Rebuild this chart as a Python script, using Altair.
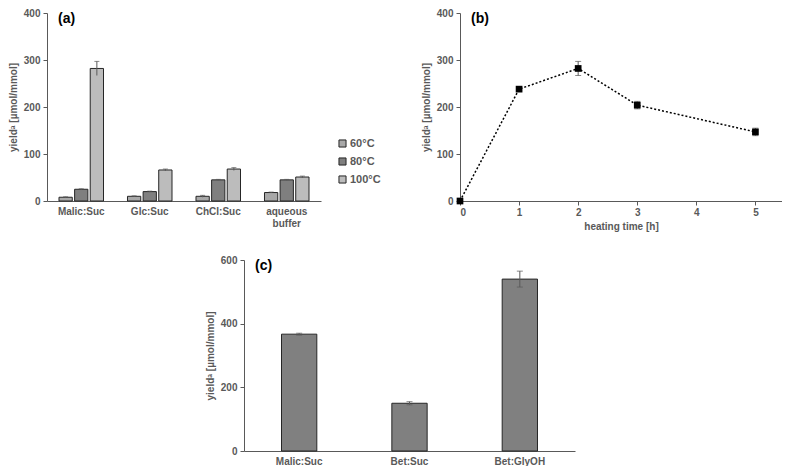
import altair as alt
import pandas as pd

# ---------------- data ----------------
cats_a = ["Malic:Suc", "Glc:Suc", "ChCl:Suc", "aqueous buffer"]
temps = ["60°C", "80°C", "100°C"]
y60 = [8, 10, 10, 18]
y80 = [25, 20, 45, 45]
y100 = [282, 66, 68, 51]
e60 = [1, 1, 2, 1]
e80 = [1, 1, 1, 1]
e100 = [15, 2, 3, 2]

times_b = [0, 1, 2, 3, 5]
yield_b = [0, 238, 282, 204, 147]
err_b = [0, 3, 15, 8, 8]

cats_c = ["Malic:Suc", "Bet:Suc", "Bet:GlyOH"]
yield_c = [367, 150, 540]
err_c = [3, 5, 25]

ytitle = "yieldᵃ [µmol/mmol]"

# ---------------- style ----------------
FONT = "Liberation Sans"
GRAY = "#595959"
DARK = "#262626"

rows = []
for i, c in enumerate(cats_a):
    for t, vals, errs in zip(temps, [y60, y80, y100], [e60, e80, e100]):
        rows.append(dict(cat=c, temp=t, y=vals[i], lo=vals[i] - errs[i], hi=vals[i] + errs[i]))
dfa = pd.DataFrame(rows)

dfb = pd.DataFrame(dict(t=times_b, y=yield_b,
                        lo=[v - e for v, e in zip(yield_b, err_b)],
                        hi=[v + e for v, e in zip(yield_b, err_b)]))

dfc = pd.DataFrame(dict(cat=cats_c, y=yield_c,
                        lo=[v - e for v, e in zip(yield_c, err_c)],
                        hi=[v + e for v, e in zip(yield_c, err_c)]))


def yaxis(values):
    return alt.Axis(values=values, title=ytitle, grid=False, tickSize=4,
                    labelFont=FONT, labelFontWeight="bold", labelFontSize=10, labelColor=GRAY,
                    titleFont=FONT, titleFontWeight="bold", titleFontSize=10, titleColor=GRAY,
                    domainColor=GRAY, tickColor=GRAY, labelPadding=3, titlePadding=5)


def label_chart(txt):
    return alt.Chart(pd.DataFrame({"t": [txt]})).mark_text(
        font=FONT, fontWeight="bold", fontSize=14, color="black", align="left", baseline="middle"
    ).encode(text="t:N", x=alt.value(11), y=alt.value(6))


# ---------------- panel (a) ----------------
xa = alt.X("cat:N", sort=cats_a, title=None,
           scale=alt.Scale(paddingInner=0.35, paddingOuter=0.175),
           axis=alt.Axis(labelAngle=0, ticks=False, domainColor=GRAY,
                         labelExpr="datum.label == 'aqueous buffer' ? ['aqueous', 'buffer'] : datum.label",
                         labelFont=FONT, labelFontWeight="bold", labelFontSize=10, labelColor=GRAY,
                         labelPadding=5))
xoff = alt.XOffset("temp:N", sort=temps, scale=alt.Scale(paddingInner=0.15))
ya = alt.Y("y:Q", scale=alt.Scale(domain=[0, 400], nice=False), axis=yaxis([0, 100, 200, 300, 400]))

bars_a = alt.Chart(dfa).mark_bar(stroke=DARK, strokeWidth=1).encode(
    x=xa, xOffset=xoff, y=ya,
    color=alt.Color("temp:N", sort=temps,
                    scale=alt.Scale(domain=temps, range=["#a8a8a8", "#7f7f7f", "#bcbcbc"]),
                    legend=alt.Legend(title=None, orient="none", legendX=290, legendY=125,
                                      symbolType="square", symbolSize=50, symbolStrokeColor=DARK,
                                      symbolStrokeWidth=1, labelFont=FONT, labelFontWeight="bold",
                                      labelFontSize=11, labelColor=GRAY, rowPadding=5, labelOffset=2))
)
err_a = alt.Chart(dfa).mark_rule(color=GRAY, strokeWidth=1).encode(
    x=xa, xOffset=xoff, y="lo:Q", y2="hi:Q")
cap_a = alt.Chart(dfa).mark_tick(color=GRAY, thickness=1, size=5).encode(
    x=xa, xOffset=xoff, y="hi:Q")
panel_a = alt.layer(bars_a, err_a, cap_a, label_chart("(a)")).properties(width=274, height=188)

# ---------------- panel (b) ----------------
xb = alt.X("t:Q", scale=alt.Scale(domain=[0, 5.45], nice=False),
           axis=alt.Axis(values=[0, 1, 2, 3, 4, 5], title="heating time [h]", grid=False, tickSize=4,
                         labelFont=FONT, labelFontWeight="bold", labelFontSize=10, labelColor=GRAY,
                         titleFont=FONT, titleFontWeight="bold", titleFontSize=10, titleColor=GRAY,
                         domainColor=GRAY, tickColor=GRAY, titlePadding=4))
yb = alt.Y("y:Q", scale=alt.Scale(domain=[0, 400], nice=False), axis=yaxis([0, 100, 200, 300, 400]))

line_b = alt.Chart(dfb).mark_line(color="black", strokeWidth=1.5, strokeDash=[2, 2]).encode(x=xb, y=yb)
err_b_c = alt.Chart(dfb).mark_rule(color=GRAY, strokeWidth=1).encode(x=xb, y="lo:Q", y2="hi:Q")
cap_b = alt.Chart(dfb).mark_tick(color=GRAY, thickness=1, size=6, orient="horizontal").encode(x=xb, y="hi:Q")
cap_b2 = alt.Chart(dfb).mark_tick(color=GRAY, thickness=1, size=6, orient="horizontal").encode(x=xb, y="lo:Q")
pts_b = alt.Chart(dfb).mark_point(shape="square", filled=True, color="black", size=45, opacity=1).encode(x=xb, y=yb)
panel_b = alt.layer(line_b, err_b_c, cap_b, cap_b2, pts_b, label_chart("(b)")).properties(width=322, height=188)

# ---------------- panel (c) ----------------
xc = alt.X("cat:N", sort=cats_c, title=None,
           scale=alt.Scale(paddingInner=0.68, paddingOuter=0.34),
           axis=alt.Axis(labelAngle=0, ticks=False, domainColor=GRAY,
                         labelFont=FONT, labelFontWeight="bold", labelFontSize=10, labelColor=GRAY,
                         labelPadding=5))
yc = alt.Y("y:Q", scale=alt.Scale(domain=[0, 600], nice=False), axis=yaxis([0, 200, 400, 600]))
bars_c = alt.Chart(dfc).mark_bar(color="#808080", stroke=DARK, strokeWidth=1).encode(x=xc, y=yc)
err_c_r = alt.Chart(dfc).mark_rule(color=GRAY, strokeWidth=1).encode(x=xc, y="lo:Q", y2="hi:Q")
cap_c = alt.Chart(dfc).mark_tick(color=GRAY, thickness=1, size=6).encode(x=xc, y="hi:Q")
cap_c2 = alt.Chart(dfc).mark_tick(color=GRAY, thickness=1, size=6).encode(x=xc, y="lo:Q")
panel_c = alt.layer(bars_c, err_c_r, cap_c, cap_c2, label_chart("(c)")).properties(width=331, height=191)

spacer = alt.Chart(pd.DataFrame({"v": [0]})).mark_point(opacity=0).encode(
    x=alt.value(0), y=alt.value(0)).properties(width=158, height=10)

top = alt.hconcat(panel_a, panel_b, spacing=100)
bottom = alt.hconcat(spacer, panel_c, spacing=0)
chart = alt.vconcat(top, bottom, spacing=24).properties(
    padding=0
).configure(background="white").configure_view(stroke=None)

chart.save("out.html", embed_options={"renderer": "svg", "actions": False})
